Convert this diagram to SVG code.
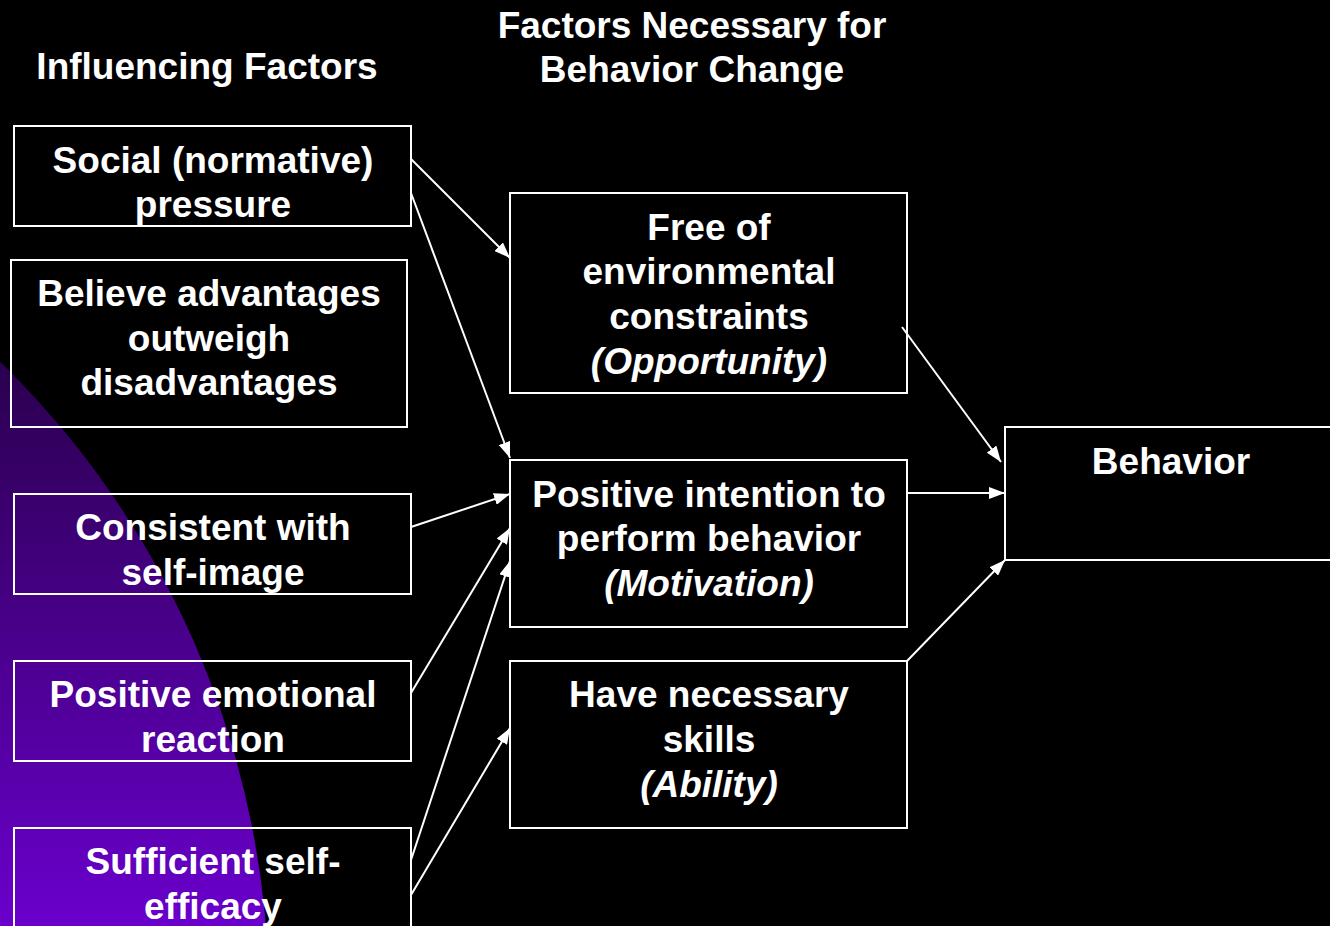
<svg xmlns="http://www.w3.org/2000/svg" width="1330" height="926" viewBox="0 0 1330 926">
<defs>
<linearGradient id="purple" x1="0" y1="360" x2="0" y2="926" gradientUnits="userSpaceOnUse">
<stop offset="0" stop-color="#2a004e"/>
<stop offset="1" stop-color="#6a00cc"/>
</linearGradient>
<marker id="arrow" markerWidth="16" markerHeight="12" refX="16" refY="6" orient="auto" markerUnits="userSpaceOnUse">
<path d="M0,0 L16,6 L0,12 z" fill="#ffffff"/>
</marker>
<style>
.box{fill:none;stroke:#ffffff;stroke-width:2}
.t{font-family:"Liberation Sans",Arial,sans-serif;font-weight:bold;font-size:37px;fill:#ffffff;text-anchor:middle}
.i{font-style:italic}
.c{stroke:#ffffff;stroke-width:2;fill:none;marker-end:url(#arrow)}
</style>
</defs>
<rect x="0" y="0" width="1330" height="926" fill="#000000"/>
<circle cx="-623" cy="1000" r="892" fill="url(#purple)"/>

<g id="headers">
<text class="t" x="207" y="79">Influencing Factors</text>
<text class="t" x="692" y="38">Factors Necessary for</text>
<text class="t" x="692" y="82">Behavior Change</text>
</g>

<g id="social">
<rect class="box" x="14" y="126" width="397" height="100"/>
<text class="t" x="213" y="173">Social (normative)</text>
<text class="t" x="213" y="217">pressure</text>
</g>
<g id="believe">
<rect class="box" x="11" y="260" width="396" height="167"/>
<text class="t" x="209" y="306">Believe advantages</text>
<text class="t" x="209" y="351">outweigh</text>
<text class="t" x="209" y="395">disadvantages</text>
</g>
<g id="consistent">
<rect class="box" x="14" y="494" width="397" height="100"/>
<text class="t" x="213" y="540">Consistent with</text>
<text class="t" x="213" y="585">self-image</text>
</g>
<g id="emotional">
<rect class="box" x="14" y="661" width="397" height="100"/>
<text class="t" x="213" y="707">Positive emotional</text>
<text class="t" x="213" y="752">reaction</text>
</g>
<g id="efficacy">
<rect class="box" x="14" y="828" width="397" height="120"/>
<text class="t" x="213" y="874">Sufficient self-</text>
<text class="t" x="213" y="919">efficacy</text>
</g>

<g id="opportunity">
<rect class="box" x="510" y="193" width="397" height="200"/>
<text class="t" x="709" y="240">Free of</text>
<text class="t" x="709" y="284">environmental</text>
<text class="t" x="709" y="329">constraints</text>
<text class="t i" x="709" y="374">(Opportunity)</text>
</g>
<g id="motivation">
<rect class="box" x="510" y="460" width="397" height="167"/>
<text class="t" x="709" y="507">Positive intention to</text>
<text class="t" x="709" y="551">perform behavior</text>
<text class="t i" x="709" y="596">(Motivation)</text>
</g>
<g id="ability">
<rect class="box" x="510" y="661" width="397" height="167"/>
<text class="t" x="709" y="707">Have necessary</text>
<text class="t" x="709" y="752">skills</text>
<text class="t i" x="709" y="797">(Ability)</text>
</g>
<g id="behavior">
<rect class="box" x="1005" y="427" width="340" height="133"/>
<text class="t" x="1171" y="474">Behavior</text>
</g>

<g id="connectors">
<line class="c" x1="411" y1="159" x2="510" y2="258"/>
<line class="c" x1="411" y1="193" x2="510" y2="458"/>
<line class="c" x1="411" y1="527" x2="510" y2="494"/>
<line class="c" x1="411" y1="693" x2="510" y2="528"/>
<line class="c" x1="411" y1="860" x2="510" y2="561"/>
<line class="c" x1="411" y1="895" x2="510" y2="728"/>
<line class="c" x1="902" y1="327" x2="1001" y2="462"/>
<line class="c" x1="907" y1="493" x2="1005" y2="493"/>
<line class="c" x1="907" y1="661" x2="1005" y2="560"/>
</g>
</svg>
